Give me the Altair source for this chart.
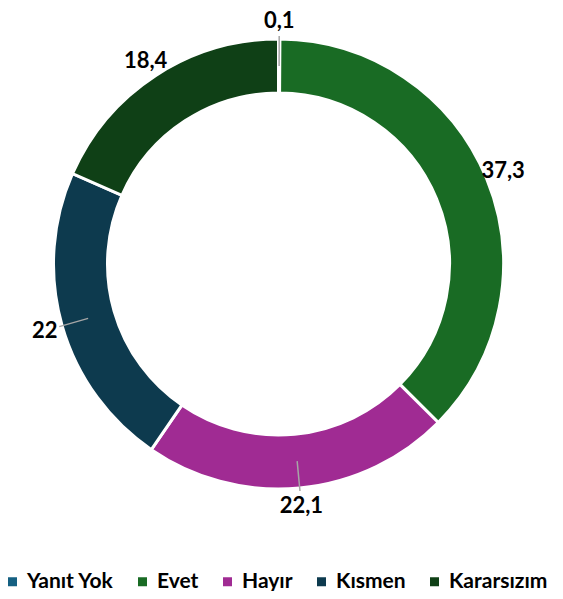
import math
import altair as alt
import pandas as pd

categories = ["Yanıt Yok", "Evet", "Hayır", "Kısmen", "Kararsızım"]
values = [0.1, 37.3, 22.1, 22, 18.4]
labels = ["0,1", "37,3", "22,1", "22", "18,4"]
colors = ["#156082", "#196B24", "#A02B93", "#0D3A4E", "#0F4016"]
has_leader = [True, False, True, True, False]

CX, CY = 270.5, 256
R_IN, R_OUT = 171, 225
R_LABEL = 243

df = pd.DataFrame({"cat": categories, "value": values, "label": labels,
                   "idx": list(range(len(values))), "leader": has_leader})
total = sum(values)
cum = df["value"].cumsum()
mid = (cum - df["value"] / 2) / total * 2 * math.pi
r1, r2 = (R_IN + R_OUT) / 2, 228
df["lx1"] = CX + r1 * mid.apply(math.sin)
df["ly1"] = CY - r1 * mid.apply(math.cos)
df["lx2"] = CX + r2 * mid.apply(math.sin)
df["ly2"] = CY - r2 * mid.apply(math.cos)

color = alt.Color("cat:N", scale=alt.Scale(domain=categories, range=colors),
                  sort=categories,
                  legend=alt.Legend(title=None, orient="none", direction="horizontal",
                                    legendX=-6, legendY=563, symbolType="square",
                                    symbolSize=81, symbolStrokeWidth=0,
                                    labelFont="Lato", labelFontSize=21,
                                    labelFontWeight="bold", labelColor="black",
                                    labelOffset=4, columnPadding=18, padding=0,
                                    labelLimit=200))

base = alt.Chart(df).encode(
    theta=alt.Theta("value:Q", stack=True),
    order=alt.Order("idx:Q"),
)

arcs = base.mark_arc(innerRadius=R_IN, outerRadius=R_OUT, stroke="white",
                     strokeWidth=3).encode(color=color, x=alt.value(CX), y=alt.value(CY))

leaders = alt.Chart(df).transform_filter("datum.leader").mark_rule(
    color="#A6A6A6", strokeWidth=1.5).encode(
    x=alt.X("lx1:Q", scale=None), y=alt.Y("ly1:Q", scale=None),
    x2="lx2:Q", y2="ly2:Q")

texts = base.mark_text(radius=R_LABEL, font="Lato", fontSize=22, fontWeight="bold",
                       color="black").encode(text="label:N", x=alt.value(CX), y=alt.value(CY))

chart = alt.layer(arcs, leaders, texts).properties(
    width=547, height=583, padding=0, autosize="none"
).configure_view(stroke=None)

chart.save("out.html", embed_options={"renderer": "svg", "actions": False})
